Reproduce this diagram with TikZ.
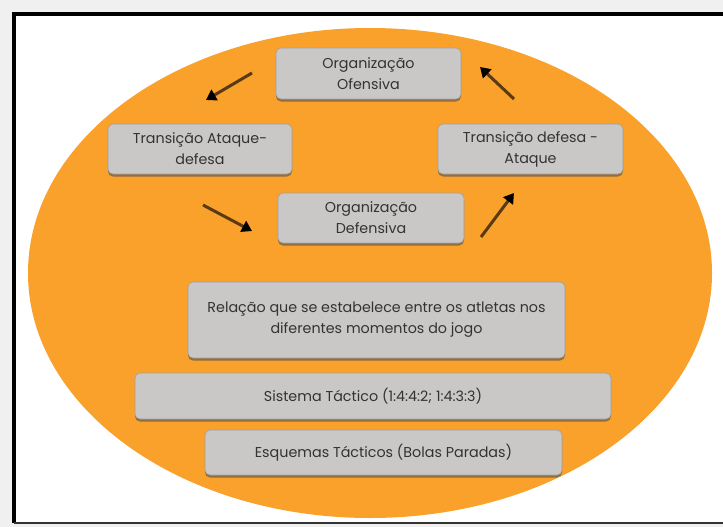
\documentclass[tikz,border=0pt]{standalone}
\usepackage{fontspec}
\setmainfont{Poppins}
\usetikzlibrary{shadows,arrows.meta}
\definecolor{bgray}{HTML}{F0F0F0}
\definecolor{orng}{HTML}{F9A12A}
\definecolor{boxg}{HTML}{C9C8C6}
\definecolor{txtg}{HTML}{333333}
\definecolor{arrb}{HTML}{5A3A14}
\tikzset{
  box/.style={draw=boxg!80!black, line width=0.6pt, fill=boxg, rounded corners=5pt,
    drop shadow={shadow xshift=0pt, shadow yshift=-2.5pt, fill=black!70, opacity=0.6},
    align=center, text=txtg, font=\fontsize{14.3}{21}\selectfont, inner sep=0pt},
  flow/.style={draw=arrb, line width=3pt, -{Triangle[length=10pt,width=12pt,fill=black,color=black]}}
}
\begin{document}
\begin{tikzpicture}[x=1pt,y=-1pt]
\useasboundingbox (0,0) rectangle (723,527);
\fill[bgray] (0,0) rectangle (723,527);
\fill[white] (14,14) rectangle (723,524);
\draw[black, line width=4pt] (14,523) -- (14,14) -- (723,14);
\draw[black!80, line width=1.5pt] (14,523) -- (723,523);
\fill[orng] (370,273) ellipse [x radius=342, y radius=245];
\node[box, minimum width=185, minimum height=51] (oo) at (368.5,73.5) {Organização\\Ofensiva};
\node[box, minimum width=184, minimum height=50] (tad) at (200,149) {Transição Ataque-\\defesa};
\node[box, minimum width=185, minimum height=50] (tda) at (530.5,149) {Transição defesa -\\Ataque};
\node[box, minimum width=186, minimum height=50] (od) at (371,218) {Organização\\Defensiva};
\node[box, minimum width=377, minimum height=76] (rel) at (376.5,320) {Relação que se estabelece entre os atletas nos\\diferentes momentos do jogo};
\node[box, minimum width=476, minimum height=46] (st) at (373,396) {Sistema Táctico (1:4:4:2; 1:4:3:3)};
\node[box, minimum width=357, minimum height=45] (et) at (383.5,452.5) {Esquemas Tácticos (Bolas Paradas)};
\coordinate (a1s) at (252,73); \coordinate (a1e) at (206,100);
\coordinate (a2s) at (514,99); \coordinate (a2e) at (480,67);
\coordinate (a3s) at (203,205); \coordinate (a3e) at (252,231);
\coordinate (a4s) at (481,237); \coordinate (a4e) at (514,193);
\draw[flow] (a1s) -- (a1e);
\draw[flow] (a2s) -- (a2e);
\draw[flow] (a3s) -- (a3e);
\draw[flow] (a4s) -- (a4e);
\end{tikzpicture}
\end{document}
